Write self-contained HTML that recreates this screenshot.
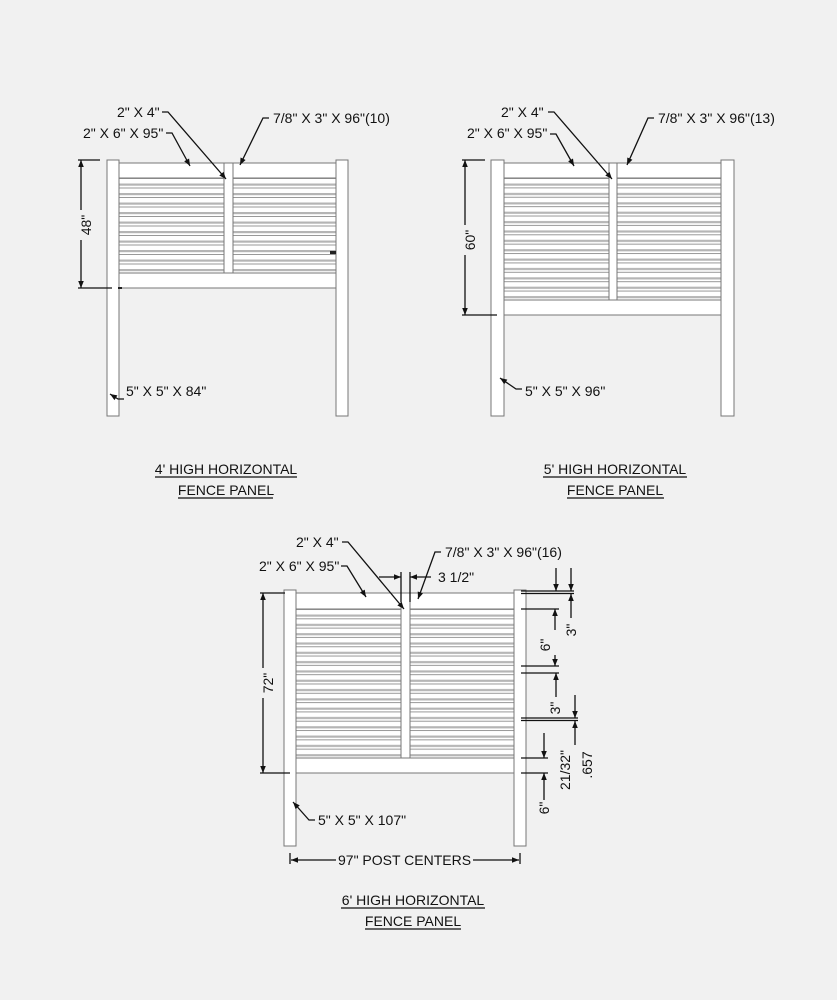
<!DOCTYPE html>
<html><head><meta charset="utf-8"><style>
html,body{margin:0;padding:0;background:#f1f1f1;}
svg{display:block}
text{font-family:"Liberation Sans",sans-serif;font-size:14px;fill:#111;}
</style></head><body>
<svg width="837" height="1000" viewBox="0 0 837 1000" xmlns="http://www.w3.org/2000/svg">
<defs>
<marker id="ah" viewBox="0 0 10 10" refX="10" refY="5" markerWidth="9" markerHeight="7" orient="auto-start-reverse" markerUnits="userSpaceOnUse"><path d="M0,1 L10,5 L0,9 z" fill="#111"/></marker>
<pattern id="s1" x="0" y="178" width="10" height="9.5" patternUnits="userSpaceOnUse"><rect width="10" height="9.5" fill="#fff"/><rect y="0" width="10" height="1" fill="#999"/><rect y="5.5" width="10" height="2.2" fill="#b5b5b5"/></pattern>
<pattern id="s2" x="0" y="178" width="10" height="9.38" patternUnits="userSpaceOnUse"><rect width="10" height="9.38" fill="#fff"/><rect y="0" width="10" height="1" fill="#999"/><rect y="5.5" width="10" height="2.2" fill="#b5b5b5"/></pattern>
<pattern id="s3" x="0" y="609" width="10" height="9.31" patternUnits="userSpaceOnUse"><rect width="10" height="9.31" fill="#fff"/><rect y="0" width="10" height="1" fill="#999"/><rect y="5.5" width="10" height="2.2" fill="#b5b5b5"/></pattern>
</defs>
<g stroke="#777" stroke-width="1">
<!-- panel 1 -->
<rect x="119" y="163" width="217" height="15" fill="#fff"/>
<rect x="119" y="178" width="217" height="95" fill="url(#s1)"/>
<rect x="119" y="273" width="217" height="15" fill="#fff"/>
<rect x="224" y="163" width="9" height="110" fill="#fff"/>
<rect x="107" y="160" width="12" height="256" fill="#fff"/>
<rect x="336" y="160" width="12" height="256" fill="#fff"/>
<!-- panel 2 -->
<rect x="504" y="163" width="217" height="15" fill="#fff"/>
<rect x="504" y="178" width="217" height="122" fill="url(#s2)"/>
<rect x="504" y="300" width="217" height="15" fill="#fff"/>
<rect x="609" y="163" width="8" height="137" fill="#fff"/>
<rect x="491" y="160" width="13" height="256" fill="#fff"/>
<rect x="721" y="160" width="13" height="256" fill="#fff"/>
<!-- panel 3 -->
<rect x="296" y="593" width="218" height="16" fill="#fff"/>
<rect x="296" y="609" width="218" height="149" fill="url(#s3)"/>
<rect x="296" y="758" width="218" height="15" fill="#fff"/>
<rect x="401" y="593" width="9" height="165" fill="#fff"/>
<rect x="284" y="590" width="12" height="256" fill="#fff"/>
<rect x="514" y="590" width="12" height="256" fill="#fff"/>
</g>
<rect x="330" y="251" width="6" height="3" fill="#222"/>
<rect x="118" y="287" width="4" height="2" fill="#222"/>
<g stroke="#111" stroke-width="1.3" fill="none">
<!-- panel1 dims -->
<line x1="78" y1="160" x2="100" y2="160"/><line x1="78" y1="288" x2="112" y2="288"/>
<line x1="81" y1="160" x2="81" y2="210" marker-start="url(#ah)"/><line x1="81" y1="240" x2="81" y2="288" marker-end="url(#ah)"/>
<polyline points="166,133 172,133 190,166" marker-end="url(#ah)"/>
<polyline points="162,112 168,112 226,179" marker-end="url(#ah)"/>
<polyline points="269,118 263,118 240,165" marker-end="url(#ah)"/>
<polyline points="124,399 118,399 110,394" marker-end="url(#ah)"/>
<!-- panel2 dims -->
<line x1="462" y1="160" x2="485" y2="160"/><line x1="462" y1="315" x2="497" y2="315"/>
<line x1="465" y1="160" x2="465" y2="225" marker-start="url(#ah)"/><line x1="465" y1="255" x2="465" y2="315" marker-end="url(#ah)"/>
<polyline points="550,134 556,134 574,166" marker-end="url(#ah)"/>
<polyline points="548,112 554,112 612,179" marker-end="url(#ah)"/>
<polyline points="654,118 648,118 627,165" marker-end="url(#ah)"/>
<polyline points="522,389 516,389 500,378" marker-end="url(#ah)"/>
<!-- panel3 dims -->
<line x1="260" y1="593" x2="285" y2="593"/><line x1="260" y1="773" x2="290" y2="773"/>
<line x1="263" y1="593" x2="263" y2="668" marker-start="url(#ah)"/><line x1="263" y1="698" x2="263" y2="773" marker-end="url(#ah)"/>
<polyline points="341,566 347,566 366,597" marker-end="url(#ah)"/>
<polyline points="342,542 348,542 404,609" marker-end="url(#ah)"/>
<polyline points="441,552 435,552 418,599" marker-end="url(#ah)"/>
<line x1="379" y1="577" x2="401" y2="577" marker-end="url(#ah)"/>
<line x1="431" y1="577" x2="410" y2="577" marker-end="url(#ah)"/>
<line x1="401" y1="572" x2="401" y2="602"/><line x1="410" y1="572" x2="410" y2="602"/>
<polyline points="315,820 309,820 293,802" marker-end="url(#ah)"/>
<line x1="290" y1="853" x2="290" y2="864"/><line x1="520" y1="853" x2="520" y2="864"/>
<line x1="336" y1="860" x2="291" y2="860" marker-end="url(#ah)"/>
<line x1="473" y1="860" x2="519" y2="860" marker-end="url(#ah)"/>
<!-- right dims -->
<line x1="521" y1="591" x2="574" y2="591"/><line x1="521" y1="593.5" x2="574" y2="593.5"/>
<line x1="521" y1="609" x2="559" y2="609"/>
<line x1="521" y1="666" x2="559" y2="666"/><line x1="521" y1="673" x2="559" y2="673"/>
<line x1="521" y1="718" x2="578" y2="718"/><line x1="521" y1="720.5" x2="578" y2="720.5"/>
<line x1="521" y1="758" x2="548" y2="758"/><line x1="521" y1="773" x2="548" y2="773"/>
<line x1="556" y1="568" x2="556" y2="591" marker-end="url(#ah)"/>
<line x1="571" y1="568" x2="571" y2="591" marker-end="url(#ah)"/>
<line x1="571" y1="618" x2="571" y2="594" marker-end="url(#ah)"/>
<line x1="555" y1="609" x2="555" y2="630" marker-start="url(#ah)"/><line x1="555" y1="655" x2="555" y2="666" marker-end="url(#ah)"/>
<line x1="556" y1="697" x2="556" y2="673" marker-end="url(#ah)"/>
<line x1="575" y1="695" x2="575" y2="718" marker-end="url(#ah)"/>
<line x1="575" y1="745" x2="575" y2="721" marker-end="url(#ah)"/>
<line x1="544" y1="733" x2="544" y2="758" marker-end="url(#ah)"/>
<line x1="544" y1="800" x2="544" y2="773" marker-end="url(#ah)"/>
<!-- title underlines -->
<line x1="155" y1="477" x2="297" y2="477"/><line x1="178" y1="498" x2="273" y2="498"/>
<line x1="543" y1="477" x2="687" y2="477"/><line x1="567" y1="498" x2="664" y2="498"/>
<line x1="341" y1="908" x2="485" y2="908"/><line x1="365" y1="929" x2="461" y2="929"/>
</g>
<g>
<text x="117" y="117">2" X 4"</text>
<text x="83" y="138">2" X 6" X 95"</text>
<text x="273" y="123">7/8" X 3" X 96"(10)</text>
<text x="126" y="396">5" X 5" X 84"</text>
<text transform="translate(91,225) rotate(-90)" text-anchor="middle">48"</text>
<text x="501" y="117">2" X 4"</text>
<text x="467" y="138">2" X 6" X 95"</text>
<text x="658" y="123">7/8" X 3" X 96"(13)</text>
<text x="525" y="396">5" X 5" X 96"</text>
<text transform="translate(475,240) rotate(-90)" text-anchor="middle">60"</text>
<text x="296" y="547">2" X 4"</text>
<text x="259" y="571">2" X 6" X 95"</text>
<text x="445" y="557">7/8" X 3" X 96"(16)</text>
<text x="438" y="582">3 1/2"</text>
<text x="318" y="825">5" X 5" X 107"</text>
<text transform="translate(273,683) rotate(-90)" text-anchor="middle">72"</text>
<text x="338" y="865">97" POST CENTERS</text>
<text transform="translate(576,630) rotate(-90)" text-anchor="middle">3"</text>
<text transform="translate(550,645) rotate(-90)" text-anchor="middle">6"</text>
<text transform="translate(560,708) rotate(-90)" text-anchor="middle">3"</text>
<text transform="translate(570,770) rotate(-90)" text-anchor="middle">21/32"</text>
<text transform="translate(592,765) rotate(-90)" text-anchor="middle">.657</text>
<text transform="translate(549,808) rotate(-90)" text-anchor="middle">6"</text>
<text x="226" y="474" text-anchor="middle">4' HIGH HORIZONTAL</text>
<text x="226" y="495" text-anchor="middle">FENCE PANEL</text>
<text x="615" y="474" text-anchor="middle">5' HIGH HORIZONTAL</text>
<text x="615" y="495" text-anchor="middle">FENCE PANEL</text>
<text x="413" y="905" text-anchor="middle">6' HIGH HORIZONTAL</text>
<text x="413" y="926" text-anchor="middle">FENCE PANEL</text>
</g>
</svg>
</body></html>
